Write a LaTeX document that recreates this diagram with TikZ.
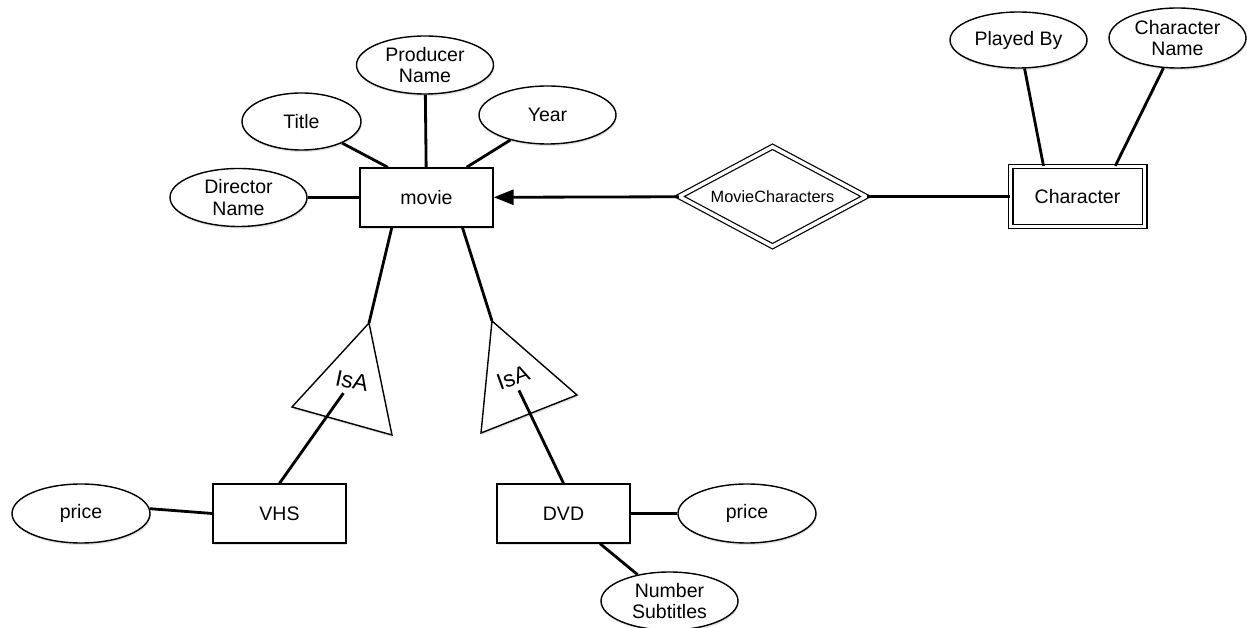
\documentclass[tikz,border=0pt]{standalone}
\usepackage{fontspec}
\setmainfont{Liberation Sans}
\usetikzlibrary{arrows.meta,shapes.geometric,shadows}

\begin{document}
\begin{tikzpicture}[
  every node/.style={font=\fontsize{11.1}{12.3}\selectfont},
  softshadow/.style={drop shadow={shadow xshift=0.4pt,shadow yshift=-1.2pt,opacity=0.22}},
  entity/.style={rectangle,draw,line width=0.8pt,fill=white,minimum width=2.66cm,minimum height=1.18cm,align=center,softshadow},
  weak/.style={rectangle,draw,line width=0.7pt,double,double distance=2pt,fill=white,minimum width=2.68cm,minimum height=1.2cm,align=center,softshadow},
  attr/.style={ellipse,draw,line width=0.8pt,fill=white,minimum width=2.74cm,minimum height=1.16cm,inner sep=0pt,align=center,softshadow},
  rel/.style={diamond,draw,line width=0.7pt,double,double distance=2pt,fill=white,aspect=1.87,inner sep=1pt,minimum width=3.74cm,minimum height=2cm,font=\fontsize{9.3}{11}\selectfont,softshadow},
  isa/.style={draw,line width=0.8pt,fill=white,line join=miter,softshadow},
  isatext/.style={font=\fontsize{13}{13}\selectfont,inner sep=3pt},
  link/.style={line width=1.6pt},
  arr/.style={-{Triangle[length=4mm,width=3mm]},line width=1.6pt}
]
\useasboundingbox (0,0) rectangle (24.94,12.56);

% movie and its attributes
\node[entity] (movie) at (8.53,8.61) {movie};
\node[attr] (producer) at (8.50,11.26) {Producer\\Name};
\node[attr,minimum width=2.38cm,minimum height=1.14cm] (title) at (6.03,10.13) {Title};
\node[attr] (year) at (10.95,10.26) {Year};
\node[attr] (director) at (4.77,8.61) {Director\\Name};

% weak entity
\node[rel] (moviechars) at (15.45,8.63) {MovieCharacters};
\node[weak] (character) at (21.55,8.63) {Character};
\node[attr,minimum height=1.12cm] (playedby) at (20.37,11.76) {Played By};
\node[attr,minimum height=1.2cm] (charname) at (23.55,11.80) {Character\\Name};

% subclasses
\coordinate (isaLtop) at (7.38,6.10);
\coordinate (isaLleft) at (5.84,4.42);
\coordinate (isaLright) at (7.84,3.86);
\coordinate (isaRtop) at (9.84,6.14);
\coordinate (isaRright) at (11.54,4.66);
\coordinate (isaRleft) at (9.62,3.90);
\draw[isa] (isaLtop) -- (isaLleft) -- (isaLright) -- cycle;
\draw[isa] (isaRtop) -- (isaRright) -- (isaRleft) -- cycle;
\node[isatext,rotate=-12] (isaL) at (7.04,4.94) {IsA};
\node[isatext,rotate=20] (isaR) at (10.26,5.00) {IsA};

\node[entity] (vhs) at (5.59,2.29) {VHS};
\node[entity] (dvd) at (11.27,2.29) {DVD};
\node[attr,minimum width=2.76cm,minimum height=1.18cm] (vhsprice) at (1.62,2.29) {price};
\node[attr,minimum width=2.76cm,minimum height=1.18cm] (dvdprice) at (14.94,2.29) {price};
\node[attr] (subtitles) at (13.39,0.54) {Number\\Subtitles};

% connectors
\draw[link] (title.-28) -- (movie.142);
\draw[link] (producer) -- (movie);
\draw[link] (year.214) -- (movie.37);
\draw[link] (director) -- (movie);
\draw[arr] (moviechars) -- (movie);
\draw[link] (moviechars) -- (character);
\draw[link] (playedby.-78) -- (character.138);
\draw[link] (charname.245) -- (character.39);
\draw[link] (movie.221) -- (isaLtop);
\draw[link] (movie.-40) -- (isaRtop);
\draw[link] (isaL) -- (vhs.north);
\draw[link] (isaR) -- (dvd.north);
\draw[link] (vhsprice.4) -- (vhs.west);
\draw[link] (dvd) -- (dvdprice);
\draw[link] (dvd) -- (subtitles);
\end{tikzpicture}
\end{document}
